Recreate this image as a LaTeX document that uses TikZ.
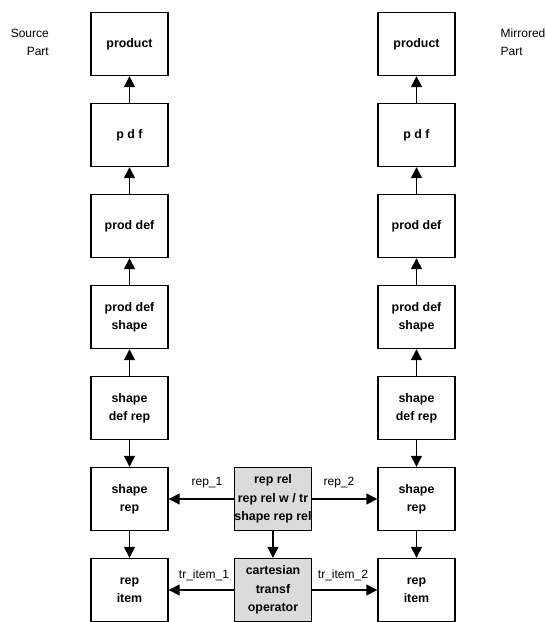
\documentclass[tikz,border=0pt]{standalone}
\usepackage{fontspec}
\setmainfont{Liberation Sans}
\usetikzlibrary{arrows.meta}
\begin{document}
\begin{tikzpicture}[x=1pt,y=-1pt,line width=1.4pt,
	box/.style={draw,minimum width=77pt,minimum height=63pt,inner sep=0pt,align=center,font=\fontsize{12.4}{18.3}\selectfont\bfseries},
	graybox/.style={box,fill=black!14},
	link/.style={-{Triangle[length=11pt,width=11pt]}},
	lbl/.style={inner sep=0pt,font=\fontsize{12}{18.3}\selectfont}]
		\useasboundingbox (0,0) rectangle (546,622);
		\node[box] (prodL) at (129.5,44) {product};
		\node[box] (pdfL) at (129.5,135) {p d f};
		\node[box] (pdL) at (129.5,226) {prod def};
		\node[box] (pdsL) at (129.5,317) {prod def\\shape};
		\node[box] (sdrL) at (129.5,408) {shape\\def rep};
		\node[box] (srL) at (129.5,499) {shape\\rep};
		\node[box] (riL) at (129.5,590) {rep\\item};
		\node[box] (prodR) at (416.5,44) {product};
		\node[box] (pdfR) at (416.5,135) {p d f};
		\node[box] (pdR) at (416.5,226) {prod def};
		\node[box] (pdsR) at (416.5,317) {prod def\\shape};
		\node[box] (sdrR) at (416.5,408) {shape\\def rep};
		\node[box] (srR) at (416.5,499) {shape\\rep};
		\node[box] (riR) at (416.5,590) {rep\\item};
		\node[graybox] (rr) at (273,499) {rep rel\\rep rel w / tr\\shape rep rel};
		\node[graybox] (cto) at (273,590) {cartesian\\transf\\operator};
		\node[lbl,align=right,anchor=north east] (src) at (49.5,28) {Source\\Part};
		\node[lbl,align=left,anchor=north west] (mir) at (500,28) {Mirrored\\Part};
		\draw[link] (pdfL) -- (prodL);
		\draw[link] (pdL) -- (pdfL);
		\draw[link] (pdsL) -- (pdL);
		\draw[link] (sdrL) -- (pdsL);
		\draw[link] (sdrL) -- (srL);
		\draw[link] (srL) -- (riL);
		\draw[link] (pdfR) -- (prodR);
		\draw[link] (pdR) -- (pdfR);
		\draw[link] (pdsR) -- (pdR);
		\draw[link] (sdrR) -- (pdsR);
		\draw[link] (sdrR) -- (srR);
		\draw[link] (srR) -- (riR);
		\draw[link] (rr) -- (cto);
		\draw[link] (rr) -- (srL);
		\draw[link] (rr) -- (srR);
		\draw[link] (cto) -- (riL);
		\draw[link] (cto) -- (riR);
		\node[lbl] (r1) at (207,483) {rep\_1};
		\node[lbl] (r2) at (339,483) {rep\_2};
		\node[lbl] (t1) at (204,575) {tr\_item\_1};
		\node[lbl] (t2) at (343,575) {tr\_item\_2};
	\end{tikzpicture}
\end{document}
